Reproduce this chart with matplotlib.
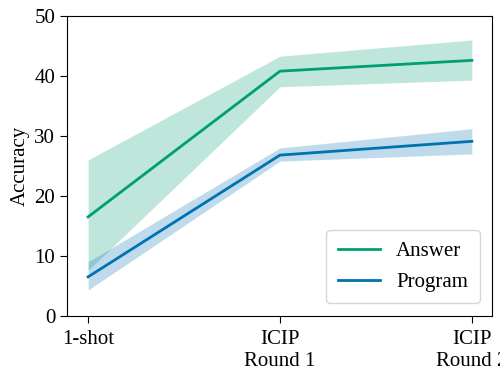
import numpy as np
import matplotlib
matplotlib.use("Agg")
import matplotlib.pyplot as plt

plt.rcParams["font.family"] = ["Liberation Serif", "DejaVu Serif"]
plt.rcParams["mathtext.fontset"] = "stix"

stages = ["1-shot", "ICIP\nRound 1", "ICIP\nRound 2"]

answer_mean = [16.5, 40.8, 42.6]
answer_low = [7.6, 38.2, 39.3]
answer_high = [26.0, 43.3, 46.0]

program_mean = [6.5, 26.8, 29.1]
program_low = [4.3, 25.8, 27.0]
program_high = [9.0, 28.0, 31.2]

green = "#009E73"
blue = "#0072B2"

fig = plt.figure(figsize=(5, 3.72), dpi=100)
ax = fig.add_axes([0.134, 0.151, 0.85, 0.806])

x = np.arange(len(stages))
ax.fill_between(x, answer_low, answer_high, color=green, alpha=0.25, linewidth=0)
ax.plot(x, answer_mean, color=green, lw=2, label="Answer")
ax.fill_between(x, program_low, program_high, color=blue, alpha=0.25, linewidth=0)
ax.plot(x, program_mean, color=blue, lw=2, label="Program")

ax.set_ylim(0, 50)
ax.set_xlim(-0.11, 2.105)
ax.set_xticks(x)
ax.set_xticklabels(stages, fontsize=15, linespacing=1.2)
ax.tick_params(axis="both", labelsize=15, length=5)
ax.tick_params(axis="x", pad=5)
ax.set_ylabel("Accuracy", fontsize=15, labelpad=3)
ax.legend(loc="lower right", fontsize=15, borderpad=0.55, handlelength=2.0,
          borderaxespad=0.6, labelspacing=0.55)

fig.savefig("out.png", dpi=100)
